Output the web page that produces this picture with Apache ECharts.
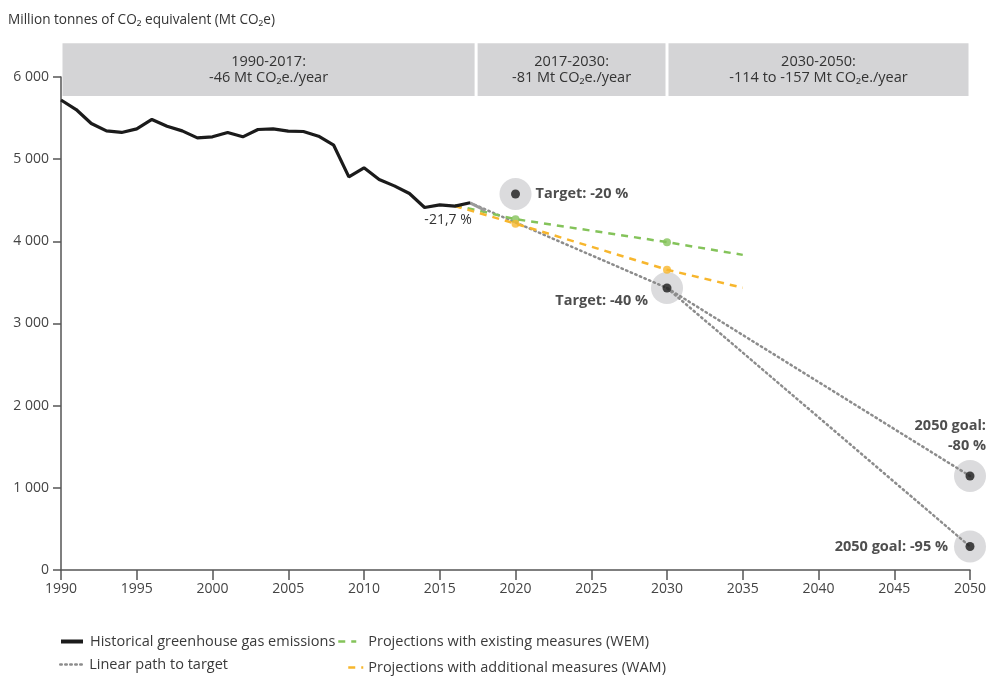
<!DOCTYPE html>
<html><head><meta charset="utf-8">
<script src="https://cdn.jsdelivr.net/npm/echarts@6/dist/echarts.min.js"></script>
<style>html,body{margin:0;padding:0;background:#fff}#c{width:991px;height:677px}</style>
</head><body><div id="c"></div>
<script>
// ---------- data ----------
const years = [1990,1991,1992,1993,1994,1995,1996,1997,1998,1999,2000,2001,2002,2003,2004,2005,2006,2007,2008,2009,2010,2011,2012,2013,2014,2015,2016,2017];
const historical = [5720,5604,5434,5344,5325,5369,5483,5401,5344,5259,5272,5325,5272,5361,5369,5341,5337,5280,5170,4785,4895,4753,4675,4582,4412,4444,4428,4469];
const estimateYears = [2017, 2018];
const estimateValues = [4469, 4375];
const linearYearsA = [2017, 2030, 2050];
const linearValuesA = [4469, 3432, 1144];
const linearYearsB = [2030, 2050];
const linearValuesB = [3432, 286];
const wemYears = [2016, 2020, 2030, 2035];
const wemValues = [4440, 4270, 3990, 3835];
const wamYears = [2016, 2020, 2030, 2035];
const wamValues = [4430, 4215, 3655, 3435];
const markerYears = [2020, 2030];
const wemMarkerValues = [4270, 3990];
const wamMarkerValues = [4215, 3655];
const targetYears = [2020, 2030, 2050, 2050];
const targetValues = [4576, 3432, 1144, 286];
const targetLabels = ['Target: -20 %', 'Target: -40 %', '2050 goal:\n-80 %', '2050 goal: -95 %'];
const changeLabel = '-21,7 %';
const periodFrom = [1990, 2017.4, 2030];
const periodTo = [2017.4, 2030, 2050];
const periodLine1 = ['1990-2017:', '2017-2030:', '2030-2050:'];
const periodLine2 = ['-46 Mt CO\u2082e./year', '-81 Mt CO\u2082e./year', '-114 to -157 Mt CO\u2082e./year'];
const xTicks = {min: 1990, max: 2050, interval: 5};
const yTicks = {min: 0, max: 6000, interval: 1000};
const names = ['Historical greenhouse gas emissions', 'Linear path to target', 'Projections with existing measures (WEM)', 'Projections with additional measures (WAM)'];

// ---------- chart ----------
const FONT = '"Open Sans", "DejaVu Sans", sans-serif';
const pair = (xs, ys) => xs.map((x, i) => [x, ys[i]]);
const chart = echarts.init(document.getElementById('c'));

const labelCfg = [
  {position: 'right', distance: 4, offset: [0, 0], align: 'left'},
  {position: 'left', distance: 3, offset: [0, 13], align: 'right'},
  {position: 'top', distance: 4, offset: [16, 0], align: 'right'},
  {position: 'left', distance: 6, offset: [0, 0], align: 'right'}
];

const GRAY_DOT = '#8c8c8c', GREEN = '#84c35a', YELLOW = '#f7b62d', BLACK = '#1b1b1b';

function legendAt(name, left, top, width, textPad, lineWidth) {
  return {
    data: [name], left: left, top: top, padding: 0, itemWidth: width, itemHeight: 12,
    selectedMode: false,
    itemStyle: {opacity: 0},
    lineStyle: {width: lineWidth, opacity: 1},
    textStyle: {fontFamily: FONT, fontSize: 14.5, color: '#3a3a3a', padding: [0, 0, 0, textPad]}
  };
}

const option = {
  animation: false,
  backgroundColor: '#fff',
  title: {
    text: 'Million tonnes of CO\u2082 equivalent (Mt CO\u2082e)',
    left: 3, top: 8,
    textStyle: {fontFamily: FONT, fontSize: 13.6, fontWeight: 'normal', color: '#333'}
  },
  grid: {left: 61, right: 21, top: 77, bottom: 107, containLabel: false},
  legend: [
    legendAt(names[0], 59, 634, 22, 2, 4),
    legendAt(names[1], 59, 657, 22, 2, 2.5),
    legendAt(names[2], 337, 634, 18, 7, 2.5),
    legendAt(names[3], 347, 660, 15, 0, 2.5)
  ],
  xAxis: {
    type: 'value', min: xTicks.min, max: xTicks.max, interval: xTicks.interval,
    splitLine: {show: false},
    axisLine: {lineStyle: {color: '#555', width: 1.5}},
    axisTick: {show: true, length: 10, lineStyle: {color: '#555', width: 1.5}},
    axisLabel: {fontFamily: FONT, fontSize: 14, color: '#444', margin: 12, formatter: v => String(v)}
  },
  yAxis: {
    type: 'value', min: yTicks.min, max: yTicks.max, interval: yTicks.interval,
    splitLine: {show: false},
    axisLine: {show: true, lineStyle: {color: '#555', width: 1.5}},
    axisTick: {show: true, length: 8, lineStyle: {color: '#555', width: 1.5}},
    axisLabel: {
      fontFamily: FONT, fontSize: 14, color: '#444', margin: 12,
      formatter: v => String(v).replace(/\B(?=(\d{3})+(?!\d))/g, ' ')
    }
  },
  series: [
    {
      type: 'scatter', name: 'targetHalo', data: pair(targetYears, targetValues),
      symbolSize: 32, itemStyle: {color: '#d2d2d4'}, z: 1, silent: true,
      label: {show: false}
    },
    {
      type: 'line', name: names[0], data: pair(years, historical), symbol: 'none',
      lineStyle: {color: BLACK, width: 3.2}, itemStyle: {color: BLACK}, z: 5,
      markPoint: {
        symbol: 'circle', symbolSize: 1, itemStyle: {color: 'rgba(0,0,0,0)'},
        data: [{coord: [years[years.length - 1], historical[historical.length - 1]], value: changeLabel,
          label: {show: true, formatter: changeLabel, position: 'bottom', distance: 10, offset: [-22, 0],
            fontFamily: FONT, fontSize: 14, color: '#333'}}]
      }
    },
    {
      type: 'line', name: 'estimate', data: pair(estimateYears, estimateValues), symbol: 'none',
      lineStyle: {color: '#9a9a9a', width: 3}, z: 4
    },
    {
      type: 'line', name: names[1], data: pair(linearYearsA, linearValuesA), symbol: 'none',
      lineStyle: {color: GRAY_DOT, width: 2.5, type: [1.5, 3.5], cap: 'round'}, itemStyle: {color: GRAY_DOT}, z: 3
    },
    {
      type: 'line', name: names[1], data: pair(linearYearsB, linearValuesB), symbol: 'none',
      lineStyle: {color: GRAY_DOT, width: 2.5, type: [1.5, 3.5], cap: 'round'}, itemStyle: {color: GRAY_DOT}, z: 3
    },
    {
      type: 'line', name: names[2], data: pair(wemYears, wemValues), symbol: 'none',
      lineStyle: {color: GREEN, width: 2.5, type: [7, 6]}, itemStyle: {color: GREEN}, z: 3
    },
    {
      type: 'line', name: names[3], data: pair(wamYears, wamValues), symbol: 'none',
      lineStyle: {color: YELLOW, width: 2.5, type: [7, 6]}, itemStyle: {color: YELLOW}, z: 3
    },
    {
      type: 'scatter', name: 'wemMarkers', data: pair(markerYears, wemMarkerValues),
      symbolSize: 8, itemStyle: {color: GREEN}, z: 4
    },
    {
      type: 'scatter', name: 'wamMarkers', data: pair(markerYears, wamMarkerValues),
      symbolSize: 8, itemStyle: {color: YELLOW}, z: 4
    },
    {
      type: 'scatter', name: 'targets',
      data: targetYears.map((y, i) => ({
        value: [y, targetValues[i]],
        label: Object.assign({show: true, formatter: targetLabels[i]}, labelCfg[i])
      })),
      symbolSize: 32, itemStyle: {color: 'rgba(0,0,0,0)'}, z: 6,
      label: {fontFamily: FONT, fontSize: 14.5, fontWeight: 'bold', color: '#222', lineHeight: 20}
    },
    {
      type: 'scatter', name: 'targetDots', data: pair(targetYears, targetValues),
      symbolSize: 9, itemStyle: {color: BLACK}, z: 7
    }
  ]
};
chart.setOption(option);

// period header boxes, placed through the axes
const BAND_TOP = 6410, BAND_BOTTOM = 5770;
const graphics = [];
periodFrom.forEach((from, i) => {
  const p1 = chart.convertToPixel({gridIndex: 0}, [from, BAND_TOP]);
  const p2 = chart.convertToPixel({gridIndex: 0}, [periodTo[i], BAND_BOTTOM]);
  graphics.push({
    type: 'rect', z: 0,
    shape: {x: p1[0] + 1.5, y: p1[1], width: p2[0] - p1[0] - 3, height: p2[1] - p1[1]},
    style: {fill: '#d4d4d6'}
  });
  graphics.push({
    type: 'text', z: 1, x: (p1[0] + p2[0]) / 2, y: (p1[1] + p2[1]) / 2,
    style: {text: periodLine1[i] + '\n' + periodLine2[i], align: 'center', verticalAlign: 'middle',
      fontFamily: FONT, fontSize: 14.5, lineHeight: 16, fill: '#333'}
  });
});
chart.setOption({graphic: graphics});
</script></body></html>
